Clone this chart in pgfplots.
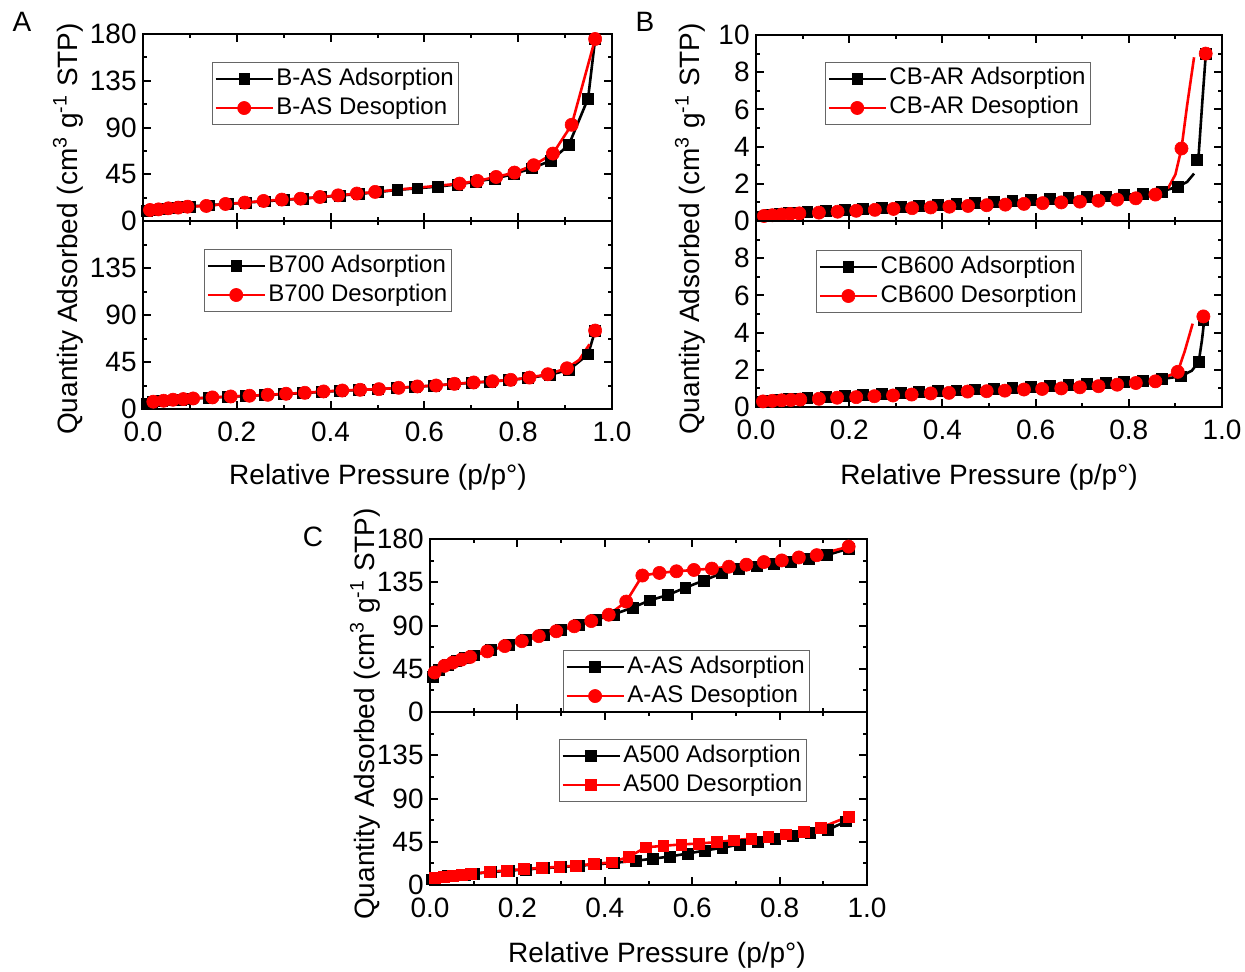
\documentclass[border=0pt]{standalone}
\usepackage{pgfplots}
\pgfplotsset{compat=1.18}
\usepackage{fontspec}
\setmainfont{Liberation Sans}

\newcommand{\bigf}{\fontsize{14}{16}\selectfont}
\pgfplotsset{
  panel/.style={scale only axis, anchor=south west, xmin=0, xmax=1, clip=false,
    axis line style={line width=1pt},
    every tick/.style={line width=1pt, black},
    major tick length=4pt, minor tick length=2.2pt,
    xtick={0,0.2,0.4,0.6,0.8,1}, minor xtick={0.1,0.3,0.5,0.7,0.9},
    tick label style={font=\bigf},
    xticklabel style={yshift=-5.5pt, inner sep=1pt},
    yticklabel style={inner sep=1pt, xshift=-2pt},
    legend cell align=left,
    legend style={draw=black!60, line width=0.5pt, fill=white, inner sep=1pt,
      font=\fontsize{12}{14}\selectfont, anchor=north west, row sep=0pt,
      nodes={text height=9pt, text depth=3pt, inner sep=1.25pt}},
    legend image code/.code={\draw[mark repeat=2,mark phase=2,#1] plot coordinates {(0cm,0cm) (0.5cm,0cm) (1cm,0cm)};},
  },
  big180/.style={ymin=0, ymax=180, ytick={0,45,90,135,180}, minor ytick={22.5,67.5,112.5,157.5}},
  big10/.style={ymin=0, ymax=10, ytick={0,2,4,6,8,10}, minor ytick={1,3,5,7,9}},
  adsL/.style={black, line width=1.3pt, mark=none},
  adsM/.style={black, only marks, mark=square*, mark size=2.7pt, mark options={solid, line width=0.3pt}},
  desL/.style={red, line width=1.3pt, mark=none},
  desM/.style={red, only marks, mark=*, mark size=3.3pt, mark options={solid, line width=0.3pt}},
  desMs/.style={red, only marks, mark=square*, mark size=2.7pt, mark options={solid, line width=0.3pt}},
  legA/.style={black, line width=1.3pt, mark=square*, mark size=2.7pt, mark options={solid, line width=0.3pt}},
  legD/.style={red, line width=1.3pt, mark=*, mark size=3.3pt, mark options={solid, line width=0.3pt}},
  legDs/.style={red, line width=1.3pt, mark=square*, mark size=2.7pt, mark options={solid, line width=0.3pt}},
}

\begin{document}
\begin{tikzpicture}[x=1pt,y=1pt]
\useasboundingbox (0,0) rectangle (622.5,485.5);

% ================= Panel A top =================
\begin{axis}[panel, big180, at={(71.5pt,375pt)}, width=234.5pt, height=93.5pt,
  yticklabels={0,45,90,135,180}, xticklabels={},
  legend style={at={(0.147,0.85)}}]
\addlegendimage{legA}\addlegendentry{B-AS Adsorption}
\addlegendimage{legD}\addlegendentry{B-AS Desoption}
\addplot[adsL, forget plot] coordinates {(0.008,9.5)(0.02,11)(0.04,11.8)(0.06,12.6)(0.08,13.3)(0.10,14)(0.14,15.2)(0.18,16.4)(0.22,17.7)(0.26,19)(0.30,20.3)(0.34,21.6)(0.38,23)(0.42,24.5)(0.46,26)(0.50,27.8)(0.542,29.9)(0.585,31.5)(0.628,33.1)(0.67,35.2)(0.71,37.8)(0.75,41)(0.79,45)(0.829,50.8)(0.869,57.9)(0.908,73.3)(0.949,118)(0.964,175)};
\addplot[adsM, forget plot] coordinates {(0.008,9.5)(0.02,11)(0.04,11.8)(0.06,12.6)(0.08,13.3)(0.10,14)(0.14,15.2)(0.18,16.4)(0.22,17.7)(0.26,19)(0.30,20.3)(0.34,21.6)(0.38,23)(0.42,24.5)(0.46,26)(0.50,27.8)(0.542,29.9)(0.585,31.5)(0.628,33.1)(0.67,35.2)(0.71,37.8)(0.75,41)(0.79,45)(0.829,50.8)(0.869,57.9)(0.908,73.3)(0.949,118)(0.964,175)};
\addplot[desL, forget plot] coordinates {(0.015,10.6)(0.033,11.2)(0.054,12.2)(0.075,12.9)(0.095,13.8)(0.135,14.5)(0.176,16.4)(0.217,17.7)(0.257,19.3)(0.296,20.6)(0.336,21.5)(0.377,23.1)(0.416,24.7)(0.456,26.4)(0.495,28.0)(0.675,36.0)(0.713,38.6)(0.753,42.4)(0.792,46.6)(0.833,53.7)(0.874,64.9)(0.914,92.6)(0.964,175.2)};
\addplot[desM, forget plot] coordinates {(0.015,10.6)(0.033,11.2)(0.054,12.2)(0.075,12.9)(0.095,13.8)(0.135,14.5)(0.176,16.4)(0.217,17.7)(0.257,19.3)(0.296,20.6)(0.336,21.5)(0.377,23.1)(0.416,24.7)(0.456,26.4)(0.495,28.0)(0.675,36.0)(0.713,38.6)(0.753,42.4)(0.792,46.6)(0.833,53.7)(0.874,64.9)(0.914,92.6)(0.964,175.2)};
\end{axis}

% ================= Panel A bottom =================
\begin{axis}[panel, big180, at={(71.5pt,281pt)}, width=234.5pt, height=94pt,
  yticklabels={0,45,90,135,{}}, xticklabels={0.0,0.2,0.4,0.6,0.8,1.0},
  legend style={at={(0.130,0.851)}}]
\addlegendimage{legA}\addlegendentry{B700 Adsorption}
\addlegendimage{legD}\addlegendentry{B700 Desorption}
\addplot[adsL, forget plot] coordinates {(0.007,4.8)(0.02,6.6)(0.04,7.5)(0.06,8.4)(0.08,9.1)(0.10,9.8)(0.14,10.8)(0.18,11.7)(0.22,12.5)(0.26,13.4)(0.30,14.3)(0.34,15.2)(0.38,16.4)(0.42,17.4)(0.46,18.2)(0.50,18.9)(0.54,20.1)(0.58,21.3)(0.62,22.3)(0.66,23.8)(0.70,25.1)(0.74,26.3)(0.78,27.6)(0.82,29.6)(0.868,32.8)(0.908,37.5)(0.949,52.3)(0.964,75)};
\addplot[adsM, forget plot] coordinates {(0.007,4.8)(0.02,6.6)(0.04,7.5)(0.06,8.4)(0.08,9.1)(0.10,9.8)(0.14,10.8)(0.18,11.7)(0.22,12.5)(0.26,13.4)(0.30,14.3)(0.34,15.2)(0.38,16.4)(0.42,17.4)(0.46,18.2)(0.50,18.9)(0.54,20.1)(0.58,21.3)(0.62,22.3)(0.66,23.8)(0.70,25.1)(0.74,26.3)(0.78,27.6)(0.82,29.6)(0.868,32.8)(0.908,37.5)(0.949,52.3)(0.964,75)};
\addplot[desL, forget plot] coordinates {(0.022,7.0)(0.044,7.9)(0.064,8.9)(0.086,9.5)(0.107,10.1)(0.148,11.1)(0.187,12.0)(0.227,12.7)(0.266,13.6)(0.305,14.6)(0.345,15.5)(0.385,16.8)(0.425,17.7)(0.463,18.4)(0.503,19.0)(0.545,20.3)(0.585,21.6)(0.625,22.5)(0.664,24.1)(0.705,25.4)(0.745,26.6)(0.784,27.9)(0.824,30.1)(0.863,33.3)(0.904,39.0)(0.93,47)(0.952,62)};
\addplot[desM, forget plot] coordinates {(0.022,7.0)(0.044,7.9)(0.064,8.9)(0.086,9.5)(0.107,10.1)(0.148,11.1)(0.187,12.0)(0.227,12.7)(0.266,13.6)(0.305,14.6)(0.345,15.5)(0.385,16.8)(0.425,17.7)(0.463,18.4)(0.503,19.0)(0.545,20.3)(0.585,21.6)(0.625,22.5)(0.664,24.1)(0.705,25.4)(0.745,26.6)(0.784,27.9)(0.824,30.1)(0.863,33.3)(0.904,39.0)(0.964,75.1)};
\end{axis}

% ================= Panel B top =================
\begin{axis}[panel, big10, at={(378pt,375pt)}, width=233pt, height=93pt,
  yticklabels={0,2,4,6,8,10}, xticklabels={},
  legend style={at={(0.148,0.855)}}]
\addlegendimage{legA}\addlegendentry{CB-AR Adsorption}
\addlegendimage{legD}\addlegendentry{CB-AR Desoption}
\addplot[adsL, forget plot, unbounded coords=jump] coordinates {(0.01,0.25)(0.03,0.33)(0.05,0.38)(0.07,0.42)(0.09,0.45)(0.11,0.48)(0.15,0.54)(0.19,0.6)(0.23,0.66)(0.27,0.72)(0.31,0.77)(0.35,0.83)(0.39,0.88)(0.43,0.93)(0.47,0.98)(0.51,1.03)(0.55,1.08)(0.59,1.13)(0.63,1.18)(0.67,1.23)(0.71,1.28)(0.75,1.33)(0.79,1.4)(0.83,1.47)(0.87,1.58)(0.905,1.85)(0.925,2.1)(0.94,2.55)(0.945,nan)(0.95,3.6)(0.958,6.5)(0.965,8.9)};
\addplot[adsM, forget plot] coordinates {(0.01,0.25)(0.03,0.33)(0.05,0.38)(0.07,0.42)(0.09,0.45)(0.11,0.48)(0.15,0.54)(0.19,0.6)(0.23,0.66)(0.27,0.72)(0.31,0.77)(0.35,0.83)(0.39,0.88)(0.43,0.93)(0.47,0.98)(0.51,1.03)(0.55,1.08)(0.59,1.13)(0.63,1.18)(0.67,1.23)(0.71,1.28)(0.75,1.33)(0.79,1.4)(0.83,1.47)(0.87,1.58)(0.905,1.85)(0.946,3.3)(0.965,9.0)};
\addplot[desL, forget plot] coordinates {(0.017,0.27)(0.035,0.31)(0.055,0.35)(0.073,0.38)(0.093,0.41)(0.135,0.45)(0.175,0.5)(0.215,0.55)(0.255,0.6)(0.295,0.65)(0.335,0.69)(0.375,0.73)(0.415,0.77)(0.455,0.81)(0.495,0.85)(0.535,0.88)(0.575,0.92)(0.615,0.96)(0.655,1.0)(0.695,1.04)(0.735,1.09)(0.775,1.15)(0.815,1.22)(0.857,1.42)(0.885,1.8)(0.9,2.5)(0.913,3.9)(0.925,6.2)(0.94,8.8)};
\addplot[desM, forget plot] coordinates {(0.017,0.27)(0.035,0.31)(0.055,0.35)(0.073,0.38)(0.093,0.41)(0.135,0.45)(0.175,0.5)(0.215,0.55)(0.255,0.6)(0.295,0.65)(0.335,0.69)(0.375,0.73)(0.415,0.77)(0.455,0.81)(0.495,0.85)(0.535,0.88)(0.575,0.92)(0.615,0.96)(0.655,1.0)(0.695,1.04)(0.735,1.09)(0.775,1.15)(0.815,1.22)(0.857,1.42)(0.913,3.9)(0.965,9.0)};
\end{axis}

% ================= Panel B bottom =================
\begin{axis}[panel, big10, at={(378pt,282pt)}, width=233pt, height=93pt,
  yticklabels={0,2,4,6,8,{}}, xticklabels={0.0,0.2,0.4,0.6,0.8,1.0},
  legend style={at={(0.129,0.844)}}]
\addlegendimage{legA}\addlegendentry{CB600 Adsorption}
\addlegendimage{legD}\addlegendentry{CB600 Desorption}
\addplot[adsL, forget plot] coordinates {(0.01,0.3)(0.03,0.36)(0.05,0.4)(0.07,0.43)(0.09,0.46)(0.11,0.49)(0.15,0.54)(0.19,0.6)(0.23,0.65)(0.27,0.7)(0.31,0.75)(0.35,0.8)(0.39,0.85)(0.43,0.9)(0.47,0.95)(0.51,1.0)(0.55,1.04)(0.59,1.09)(0.63,1.14)(0.67,1.19)(0.71,1.24)(0.75,1.29)(0.79,1.35)(0.83,1.42)(0.87,1.5)(0.912,1.65)(0.935,1.95)(0.95,2.42)(0.957,3.6)(0.962,4.7)};
\addplot[adsM, forget plot] coordinates {(0.01,0.3)(0.03,0.36)(0.05,0.4)(0.07,0.43)(0.09,0.46)(0.11,0.49)(0.15,0.54)(0.19,0.6)(0.23,0.65)(0.27,0.7)(0.31,0.75)(0.35,0.8)(0.39,0.85)(0.43,0.9)(0.47,0.95)(0.51,1.0)(0.55,1.04)(0.59,1.09)(0.63,1.14)(0.67,1.19)(0.71,1.24)(0.75,1.29)(0.79,1.35)(0.83,1.42)(0.87,1.5)(0.912,1.65)(0.95,2.42)(0.96,4.7)};
\addplot[desL, forget plot] coordinates {(0.015,0.3)(0.035,0.33)(0.055,0.36)(0.075,0.38)(0.095,0.4)(0.135,0.44)(0.174,0.5)(0.215,0.53)(0.254,0.58)(0.294,0.62)(0.334,0.67)(0.375,0.73)(0.414,0.76)(0.454,0.83)(0.495,0.85)(0.534,0.88)(0.575,0.94)(0.614,0.97)(0.655,1.0)(0.695,1.06)(0.735,1.12)(0.775,1.2)(0.815,1.29)(0.857,1.38)(0.905,1.89)(0.92,3.0)(0.937,4.48)};
\addplot[desM, forget plot] coordinates {(0.015,0.3)(0.035,0.33)(0.055,0.36)(0.075,0.38)(0.095,0.4)(0.135,0.44)(0.174,0.5)(0.215,0.53)(0.254,0.58)(0.294,0.62)(0.334,0.67)(0.375,0.73)(0.414,0.76)(0.454,0.83)(0.495,0.85)(0.534,0.88)(0.575,0.94)(0.614,0.97)(0.655,1.0)(0.695,1.06)(0.735,1.12)(0.775,1.2)(0.815,1.29)(0.857,1.38)(0.905,1.89)(0.96,4.87)};
\end{axis}

% ================= Panel C top =================
\begin{axis}[panel, big180, at={(215pt,129.5pt)}, width=218.5pt, height=86.5pt,
  yticklabels={0,45,90,135,180}, xticklabels={},
  legend style={at={(0.304,0.358)}}]
\addlegendimage{legA}\addlegendentry{A-AS Adsorption}
\addlegendimage{legD}\addlegendentry{A-AS Desoption}
\addplot[adsL, forget plot] coordinates {(0.006,36.7)(0.02,44)(0.04,49.5)(0.06,53)(0.08,56)(0.10,59)(0.14,64.5)(0.18,70)(0.22,75)(0.26,80)(0.30,85.5)(0.34,90.5)(0.38,96)(0.42,101.5)(0.464,108.7)(0.503,116.2)(0.544,121.7)(0.584,129.3)(0.626,136.8)(0.668,144.4)(0.707,148.8)(0.747,151.5)(0.786,154)(0.826,156.5)(0.866,159.5)(0.908,163.2)(0.958,170)};
\addplot[adsM, forget plot] coordinates {(0.006,36.7)(0.02,44)(0.04,49.5)(0.06,53)(0.08,56)(0.10,59)(0.14,64.5)(0.18,70)(0.22,75)(0.26,80)(0.30,85.5)(0.34,90.5)(0.38,96)(0.42,101.5)(0.464,108.7)(0.503,116.2)(0.544,121.7)(0.584,129.3)(0.626,136.8)(0.668,144.4)(0.707,148.8)(0.747,151.5)(0.786,154)(0.826,156.5)(0.866,159.5)(0.908,163.2)(0.958,170)};
\addplot[desL, forget plot] coordinates {(0.0105,41.1)(0.033,48)(0.052,51.4)(0.072,54.5)(0.092,57.3)(0.131,63.1)(0.171,68.6)(0.21,73.7)(0.249,78.9)(0.289,84)(0.33,89.2)(0.369,94.6)(0.409,101.2)(0.449,114.9)(0.486,142)(0.525,144.7)(0.564,146.4)(0.604,147.8)(0.645,149.2)(0.684,151.2)(0.724,153.3)(0.764,156)(0.805,157.7)(0.844,160.8)(0.885,163.2)(0.958,172.1)};
\addplot[desM, forget plot] coordinates {(0.0105,41.1)(0.033,48)(0.052,51.4)(0.072,54.5)(0.092,57.3)(0.131,63.1)(0.171,68.6)(0.21,73.7)(0.249,78.9)(0.289,84)(0.33,89.2)(0.369,94.6)(0.409,101.2)(0.449,114.9)(0.486,142)(0.525,144.7)(0.564,146.4)(0.604,147.8)(0.645,149.2)(0.684,151.2)(0.724,153.3)(0.764,156)(0.805,157.7)(0.844,160.8)(0.885,163.2)(0.958,172.1)};
\end{axis}

% ================= Panel C bottom =================
\begin{axis}[panel, big180, at={(215pt,43pt)}, width=218.5pt, height=86.5pt,
  yticklabels={0,45,90,135,{}}, xticklabels={0.0,0.2,0.4,0.6,0.8,1.0},
  legend style={at={(0.295,0.844)}}]
\addlegendimage{legA}\addlegendentry{A500 Adsorption}
\addlegendimage{legDs}\addlegendentry{A500 Desorption}
\addplot[adsL, forget plot] coordinates {(0.004,6)(0.02,8)(0.04,9.2)(0.06,10.1)(0.08,11)(0.10,11.8)(0.14,13.4)(0.18,14.9)(0.22,16.2)(0.26,17.5)(0.30,18.7)(0.34,20)(0.38,21.5)(0.42,23)(0.471,25.3)(0.509,27.3)(0.549,29.7)(0.589,32.7)(0.628,35.8)(0.669,38.8)(0.709,42.2)(0.75,45.3)(0.79,48.3)(0.83,51.2)(0.87,54.3)(0.91,57.4)(0.952,66.2)};
\addplot[adsM, forget plot] coordinates {(0.004,6)(0.02,8)(0.04,9.2)(0.06,10.1)(0.08,11)(0.10,11.8)(0.14,13.4)(0.18,14.9)(0.22,16.2)(0.26,17.5)(0.30,18.7)(0.34,20)(0.38,21.5)(0.42,23)(0.471,25.3)(0.509,27.3)(0.549,29.7)(0.589,32.7)(0.628,35.8)(0.669,38.8)(0.709,42.2)(0.75,45.3)(0.79,48.3)(0.83,51.2)(0.87,54.3)(0.91,57.4)(0.952,66.2)};
\addplot[desL, forget plot] coordinates {(0.0105,7.8)(0.031,8.8)(0.052,9.7)(0.072,10.5)(0.093,11.3)(0.136,13.8)(0.175,15.2)(0.214,16.5)(0.255,17.9)(0.296,18.9)(0.334,20.2)(0.374,21.9)(0.416,23.6)(0.455,29.4)(0.494,39.2)(0.534,40.8)(0.575,42.2)(0.615,43.2)(0.656,44.6)(0.696,46.6)(0.735,48.3)(0.774,50)(0.815,52.7)(0.855,55.4)(0.894,59.7)(0.958,71.2)};
\addplot[desMs, forget plot] coordinates {(0.0105,7.8)(0.031,8.8)(0.052,9.7)(0.072,10.5)(0.093,11.3)(0.136,13.8)(0.175,15.2)(0.214,16.5)(0.255,17.9)(0.296,18.9)(0.334,20.2)(0.374,21.9)(0.416,23.6)(0.455,29.4)(0.494,39.2)(0.534,40.8)(0.575,42.2)(0.615,43.2)(0.656,44.6)(0.696,46.6)(0.735,48.3)(0.774,50)(0.815,52.7)(0.855,55.4)(0.894,59.7)(0.958,71.2)};
\end{axis}

% ================= labels =================
\node[rotate=90, font=\bigf] at (34,371) {Quantity Adsorbed (cm\textsuperscript{3} g\textsuperscript{-1} STP)};
\node[rotate=90, font=\bigf] at (345,371) {Quantity Adsorbed (cm\textsuperscript{3} g\textsuperscript{-1} STP)};
\node[rotate=90, font=\bigf] at (182.5,128.5) {Quantity Adsorbed (cm\textsuperscript{3} g\textsuperscript{-1} STP)};
\node[font=\bigf] at (189,247) {Relative Pressure (p/p°)};
\node[font=\bigf] at (494.5,247) {Relative Pressure (p/p°)};
\node[font=\bigf] at (328.5,8) {Relative Pressure (p/p°)};
\node[font=\bigf] at (11,474.5) {A};
\node[font=\bigf] at (322.5,474.5) {B};
\node[font=\bigf] at (156.5,217) {C};
\end{tikzpicture}
\end{document}
